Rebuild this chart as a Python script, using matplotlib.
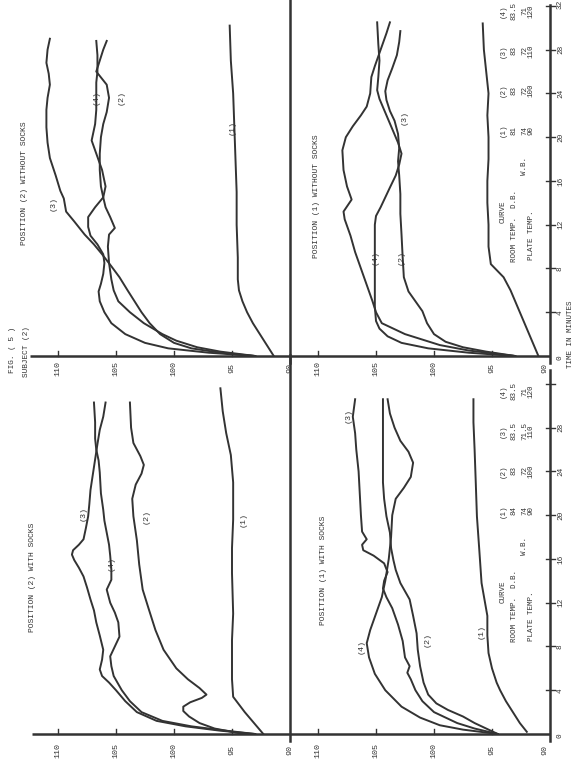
import matplotlib.pyplot as plt

W, H = 577, 766
INK = '#333333'
FONT = 'Liberation Mono'

temp_ticks = [110, 105, 100, 95, 90]
time_ticks = [0, 4, 8, 12, 16, 20, 24, 28, 32]

# position (2) without socks  (top left)
p2_nosock_1_min = [0, 1, 2, 3, 4, 5, 6, 7, 9, 12, 15, 18, 21, 24, 27, 30.2]
p2_nosock_1_temp = [91.4, 92.0, 92.6, 93.2, 93.7, 94.1, 94.4, 94.5, 94.5, 94.6, 94.6, 94.7, 94.8, 94.9, 95.1, 95.2]
p2_nosock_2_min = [0, 0.4, 0.8, 1.4, 2, 3, 4, 5, 6, 7, 8.5, 10, 11.1, 11.7, 12.7, 13.6, 14.5, 15.5, 17, 18.5, 20, 21.2, 22.3, 23.6, 24.8, 26, 27, 28, 28.8]
p2_nosock_2_temp = [93, 96, 98, 99.8, 101, 102.6, 103.8, 104.8, 105.2, 105.4, 105.6, 105.7, 105.6, 105.1, 105.5, 105.9, 106.1, 106.3, 106.4, 106.4, 106.3, 106.1, 105.8, 105.6, 105.8, 106.7, 106.4, 106.1, 105.8]
p2_nosock_3_min = [0, 0.3, 0.7, 1.2, 2, 3, 4, 5, 6, 7.2, 8.2, 9.3, 10.2, 11.1, 12.3, 13.2, 13.8, 14.4, 15.1, 16.5, 18.1, 19.5, 20.9, 22.5, 23.6, 24.8, 25.8, 26.8, 28, 29]
p2_nosock_3_temp = [93, 96, 98.5, 100, 101.2, 102.1, 102.8, 103.4, 104, 104.7, 105.4, 106.2, 106.9, 107.7, 108.6, 109.3, 109.4, 109.5, 109.8, 110.2, 110.7, 110.9, 111.0, 111.0, 110.9, 110.7, 110.8, 111.0, 110.9, 110.7]
p2_nosock_4_min = [0, 0.3, 0.7, 1.2, 2, 3, 4, 5, 5.9, 6.6, 7.5, 8.5, 9.3, 10.2, 11, 11.8, 12.7, 13.6, 14.5, 15.5, 17, 18.5, 19.7, 21.2, 22.5, 23.6, 25, 26, 27.5, 28.8]
p2_nosock_4_temp = [93, 97, 100.5, 102.5, 104.2, 105.4, 106.0, 106.4, 106.5, 106.3, 106.1, 106.0, 106.1, 106.6, 107.2, 107.4, 107.4, 106.8, 106.1, 105.9, 106.2, 106.7, 107.1, 106.8, 106.7, 106.7, 106.7, 106.6, 106.6, 106.7]

# position (1) without socks  (top right)
p1_nosock_1_min = [0, 1, 2, 3, 4, 5, 6, 7.2, 8.4, 10, 12, 14, 16, 18, 20, 22, 24, 26, 28, 30.4]
p1_nosock_1_temp = [91.0, 91.4, 91.8, 92.2, 92.6, 93.0, 93.4, 94.0, 95.1, 95.3, 95.3, 95.4, 95.4, 95.3, 95.3, 95.4, 95.3, 95.5, 95.7, 95.8]
p1_nosock_2_min = [0, 0.4, 0.8, 1.3, 2, 3, 4.1, 5, 5.9, 7.2, 9, 11.1, 13, 14.8, 16.5, 17.8, 19, 20.3, 21.5, 22.4, 23.4, 24.2, 25.2, 26.3, 27.5, 28.7, 29.7]
p1_nosock_2_temp = [93, 95.5, 97.5, 99, 100, 100.6, 101.0, 101.6, 102.2, 102.6, 102.7, 102.8, 102.9, 102.9, 103.0, 103.1, 103.0, 103.1, 103.4, 103.8, 104.1, 104.2, 104.0, 103.6, 103.2, 103.0, 102.9]
p1_nosock_3_min = [0, 0.5, 1, 2, 3, 4, 5, 6.5, 8, 9.5, 11, 12.5, 13.2, 14.3, 15.5, 17, 18.8, 20, 21, 22, 22.8, 24, 25.5, 26.5, 28, 29.5, 30.5]
p1_nosock_3_temp = [93, 97, 99.5, 102.5, 104.5, 105.0, 105.3, 105.8, 106.3, 106.8, 107.2, 107.7, 107.8, 107.1, 107.5, 107.8, 107.9, 107.6, 107.0, 106.3, 105.8, 105.5, 105.4, 105.1, 104.6, 104.1, 103.8]
p1_nosock_4_min = [0, 0.3, 0.7, 1.2, 1.8, 2.5, 3.2, 4.5, 6, 8, 10, 12, 12.8, 13.6, 14.5, 15.4, 16.5, 17.5, 18.5, 19.5, 20.5, 21.5, 22.5, 23.5, 24.3, 25.5, 27, 28.5, 30.5]
p1_nosock_4_temp = [93, 97, 100.5, 102.8, 104, 104.7, 105.0, 105.1, 105.1, 105.1, 105.1, 105.1, 105.0, 104.6, 104.2, 103.8, 103.3, 103.0, 102.8, 103.1, 103.5, 103.9, 104.3, 104.7, 104.9, 104.8, 104.7, 104.8, 104.9]

# position (2) with socks  (bottom left)
p2_sock_1_min = [0, 1, 2, 3.4, 5, 8.6, 11, 14.7, 17, 19.6, 23, 25.5, 27.5, 29.5, 31.6]
p2_sock_1_temp = [92.3, 93.1, 93.9, 94.9, 95.0, 95.0, 94.9, 95.0, 95.0, 94.9, 94.9, 95.1, 95.5, 95.8, 96.0]
p2_sock_2_min = [0, 0.5, 1, 1.6, 2.1, 2.5, 2.9, 3.3, 3.6, 4.2, 5, 6, 7.7, 9.5, 11.5, 13.2, 15.5, 17.7, 19.9, 21.5, 22.8, 23.8, 24.6, 25.4, 26.6, 28, 30.3]
p2_sock_2_temp = [94, 96.5, 97.8, 98.7, 99.2, 99.2, 98.6, 97.6, 97.2, 97.8, 98.8, 99.8, 100.9, 101.6, 102.2, 102.7, 103.0, 103.2, 103.5, 103.6, 103.3, 102.8, 102.6, 102.9, 103.5, 103.7, 103.8]
p2_sock_3_min = [0, 0.3, 0.7, 1.2, 2, 3, 4, 4.7, 5.3, 5.9, 6.8, 7.7, 9, 10.2, 11.3, 12.3, 13.4, 14.4, 15.2, 15.9, 16.4, 16.8, 17.3, 17.8, 18.8, 19.9, 21, 22.3, 23.7, 25.1, 26.5, 27.8, 29, 30.3]
p2_sock_3_temp = [93, 96, 99, 101.5, 103.2, 104.2, 105.0, 105.6, 106.2, 106.4, 106.2, 106.1, 106.4, 106.7, 106.9, 107.2, 107.5, 107.8, 108.2, 108.6, 108.8, 108.7, 108.2, 107.8, 107.6, 107.4, 107.3, 107.2, 107.0, 106.8, 106.6, 106.4, 106.1, 105.9]
p2_sock_4_min = [0, 0.3, 0.7, 1.2, 2, 3, 4, 5.3, 6.2, 7.1, 8, 8.9, 10.2, 11.1, 12, 13.2, 14.1, 15, 16.3, 17.3, 18.4, 19.5, 20.5, 22, 23.9, 25, 26, 27, 28.5, 30.3]
p2_sock_4_temp = [93, 95.5, 98.5, 101, 102.8, 103.8, 104.5, 105.2, 105.4, 105.5, 105.1, 104.7, 104.8, 105.1, 105.5, 105.8, 105.4, 105.4, 105.5, 105.6, 105.8, 106.0, 106.1, 106.3, 106.4, 106.5, 106.7, 106.8, 106.8, 106.9]

# position (1) with socks  (bottom right)
p1_sock_1_min = [0.2, 1, 2, 3, 4, 4.7, 6, 7.4, 9, 10.8, 13.8, 16.9, 19.9, 23, 26, 28.5, 30.6]
p1_sock_1_temp = [92.0, 92.6, 93.2, 93.8, 94.3, 94.6, 95.0, 95.3, 95.4, 95.4, 95.9, 96.1, 96.3, 96.4, 96.5, 96.6, 96.6]
p1_sock_2_min = [0, 0.5, 1, 1.6, 2.2, 2.8, 3.6, 4.7, 6.2, 7.7, 9.2, 10.8, 12.3, 13.8, 15, 15.9, 17, 18.4, 19.9, 21.5, 23, 25, 27, 29, 30.6]
p1_sock_2_temp = [94.5, 95.5, 96.5, 97.5, 98.8, 99.8, 100.5, 100.9, 101.2, 101.4, 101.5, 101.8, 102.1, 102.9, 103.3, 103.5, 103.7, 103.8, 104.1, 104.3, 104.4, 104.4, 104.4, 104.4, 104.4]
p1_sock_3_min = [0, 0.5, 1, 2, 3, 4, 5, 5.6, 6.2, 7, 8.5, 10, 11.5, 12.5, 13.3, 14, 14.8, 15.6, 16.3, 16.8, 17.3, 17.8, 18.5, 20, 22, 24, 26, 27.5, 29, 30.6]
p1_sock_3_temp = [94.5, 96.5, 98, 100, 101, 101.6, 102.0, 102.3, 102.1, 102.5, 102.7, 103.1, 103.6, 104.1, 104.4, 104.3, 104.0, 104.3, 105.2, 106.1, 106.2, 105.8, 106.2, 106.3, 106.4, 106.5, 106.7, 106.8, 107.0, 106.8]
p1_sock_4_min = [0, 0.4, 0.8, 1.5, 2.5, 4, 5.5, 7, 8.3, 9.5, 11, 12.5, 14, 16, 18, 20, 21.5, 22.5, 23.5, 24.8, 25.8, 26.8, 28, 29.3, 30.6]
p1_sock_4_temp = [94.5, 97.5, 99.5, 101.2, 102.8, 104.2, 105.1, 105.6, 105.8, 105.5, 105.0, 104.5, 104.2, 103.9, 103.7, 103.6, 103.3, 102.6, 102.0, 101.8, 102.2, 102.9, 103.4, 103.8, 104.0]

legend_nosock = [['(1)', '81', '74', '90'], ['(2)', '83', '72', '100'],
                 ['(3)', '83', '72', '110'], ['(4)', '83.5', '71', '120']]
legend_sock = [['(1)', '84', '74', '90'], ['(2)', '83', '72', '100'],
               ['(3)', '83.5', '71.5', '110'], ['(4)', '83.5', '71', '120']]

PX_DEG = 11.6
PX_MIN = 10.94

fig = plt.figure(figsize=(W / 100, H / 100), dpi=100)
fig.patch.set_facecolor('white')


def make_panel(x0, x1, ytop, ybot):
    ax = fig.add_axes([x0 / W, (H - ybot) / H, (x1 - x0) / W, (ybot - ytop) / H])
    ax.set_xlim(90 + (x1 - x0) / PX_DEG, 90)
    ax.set_ylim(0, (ybot - ytop) / PX_MIN)
    ax.axis('off')
    return ax


def rtext(ax, x, y, s, size=6.0, **kw):
    ax.text(x, y, s, rotation=90, ha='center', va='center', fontsize=size,
            family=FONT, color=INK, clip_on=False, **kw)


def draw_axes(ax, left_temp, vtop, right_ticks):
    ax.plot([left_temp, 90], [0, 0], color=INK, lw=1.8, clip_on=False, solid_capstyle='butt')
    ax.plot([90, 90], [-0.6, vtop], color=INK, lw=1.8, clip_on=False)
    for tk in temp_ticks[:-1]:
        ax.plot([tk, tk], [0, 0.45], color=INK, lw=1.0, clip_on=False)
    if right_ticks:
        for tm in time_ticks[1:]:
            ax.plot([90.35, 89.55], [tm, tm], color=INK, lw=1.0, clip_on=False)


def curves(ax, pairs):
    for mins, temps in pairs:
        ax.plot(temps, mins, color=INK, lw=1.4, solid_joinstyle='round')


# top left
ax_tl = make_panel(0, 290, 0, 356)
draw_axes(ax_tl, 112.4, 32.54, False)
curves(ax_tl, [(p2_nosock_1_min, p2_nosock_1_temp), (p2_nosock_2_min, p2_nosock_2_temp),
               (p2_nosock_3_min, p2_nosock_3_temp), (p2_nosock_4_min, p2_nosock_4_temp)])
for tk in temp_ticks:
    rtext(ax_tl, tk, -1.1, str(tk))
rtext(ax_tl, 112.9, 15.8, 'POSITION (2) WITHOUT SOCKS', 5.8)
rtext(ax_tl, 110.4, 13.9, '(3)')
rtext(ax_tl, 106.7, 23.6, '(4)')
rtext(ax_tl, 104.6, 23.6, '(2)')
rtext(ax_tl, 95.0, 20.9, '(1)')

# top right
ax_tr = make_panel(290, 550, 0, 356)
draw_axes(ax_tr, 112.41, 32.1, True)
curves(ax_tr, [(p1_nosock_1_min, p1_nosock_1_temp), (p1_nosock_2_min, p1_nosock_2_temp),
               (p1_nosock_3_min, p1_nosock_3_temp), (p1_nosock_4_min, p1_nosock_4_temp)])
for tk in temp_ticks:
    rtext(ax_tr, tk + 0.4 * (tk == 90), -1.1, str(tk))
for tm in time_ticks:
    rtext(ax_tr, 89.1, tm + 0.15 * (tm == 32) - 0.15 * (tm == 0), str(tm), 5.6)
rtext(ax_tr, 110.1, 14.6, 'POSITION (1) WITHOUT SOCKS', 5.8)
rtext(ax_tr, 102.6, 21.8, '(3)')
rtext(ax_tr, 105.1, 9.0, '(4)')
rtext(ax_tr, 102.8, 9.0, '(2)')

# bottom left
ax_bl = make_panel(0, 290, 383, 734)
draw_axes(ax_bl, 112.2, 34.6, False)
curves(ax_bl, [(p2_sock_1_min, p2_sock_1_temp), (p2_sock_2_min, p2_sock_2_temp),
               (p2_sock_3_min, p2_sock_3_temp), (p2_sock_4_min, p2_sock_4_temp)])
for tk in temp_ticks:
    rtext(ax_bl, tk, -1.5, str(tk))
rtext(ax_bl, 112.2, 14.3, 'POSITION (2) WITH SOCKS', 5.8)
rtext(ax_bl, 107.8, 20.2, '(3)')
rtext(ax_bl, 105.4, 15.6, '(4)')
rtext(ax_bl, 102.4, 19.9, '(2)')
rtext(ax_bl, 94.0, 19.6, '(1)')

# bottom right
ax_br = make_panel(290, 550, 383, 734)
draw_axes(ax_br, 112.41, 33.3, True)
curves(ax_br, [(p1_sock_1_min, p1_sock_1_temp), (p1_sock_2_min, p1_sock_2_temp),
               (p1_sock_3_min, p1_sock_3_temp), (p1_sock_4_min, p1_sock_4_temp)])
for tk in temp_ticks:
    rtext(ax_br, tk + 0.4 * (tk == 90), -1.5, str(tk))
for tm in time_ticks[:-1]:
    rtext(ax_br, 89.1, tm - 0.15 * (tm == 0), str(tm), 5.6)
rtext(ax_br, 109.5, 15.0, 'POSITION (1) WITH SOCKS', 5.8)
rtext(ax_br, 107.4, 29.1, '(3)')
rtext(ax_br, 106.3, 8.0, '(4)')
rtext(ax_br, 100.6, 8.6, '(2)')
rtext(ax_br, 95.9, 9.4, '(1)')

# legends
for ax, rows, dy in [(ax_tr, legend_nosock, 0.2), (ax_br, legend_sock, 0.0)]:
    rtext(ax, 94.0, 13.0 + dy, 'CURVE', 5.4)
    rtext(ax, 93.1, 11.7 + dy, 'ROOM TEMP.  D.B.', 5.4)
    rtext(ax, 92.2, 17.2 + dy, 'W.B.', 5.4)
    rtext(ax, 91.6, 10.8 + dy, 'PLATE TEMP.', 5.4)
    for i, row in enumerate(rows):
        tpos = 20.4 + 3.65 * i + dy
        for temp_pos, s in zip([94.0, 93.1, 92.2, 91.6], row):
            rtext(ax, temp_pos, tpos, s, 5.4)

fig.text(13 / W, 1 - 350 / H, 'FIG. ( 5 )', rotation=90, ha='center', va='center',
         fontsize=5.6, family=FONT, color=INK)
fig.text(27 / W, 1 - 352 / H, 'SUBJECT (2)', rotation=90, ha='center', va='center',
         fontsize=5.6, family=FONT, color=INK)
fig.text(571 / W, 1 - 334 / H, 'TIME IN MINUTES', rotation=90, ha='center', va='center',
         fontsize=5.4, family=FONT, color=INK)

fig.savefig('out.png', dpi=100, facecolor='white')
